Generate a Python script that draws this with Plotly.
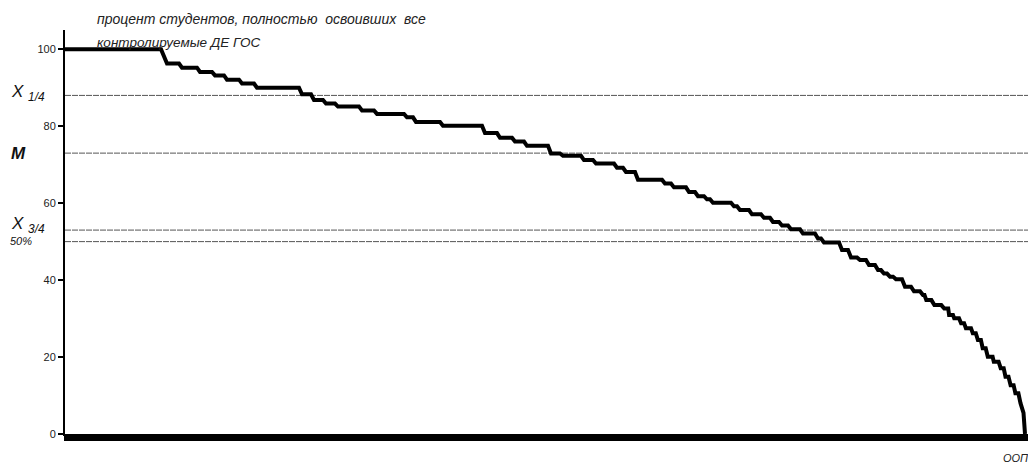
import plotly.graph_objects as go

# rank of student (sorted by result) and percent of mastered DE
student_rank = [0, 32, 34, 38, 39, 44, 45, 49, 50, 53, 54, 58, 59, 63, 64, 78, 79, 82, 83, 86,
                87, 90, 91, 98, 99, 103, 104, 113, 114, 116, 117, 125, 126, 139, 140, 144, 145,
                149, 150, 153, 154, 161, 162, 165, 166, 172, 173, 176, 177, 183, 184, 186, 187,
                190, 191, 199, 200, 202, 203, 207, 208, 210, 211, 213, 214, 215, 216, 222, 223,
                224, 225, 228, 229, 232, 233, 235, 236, 238, 239, 241, 242, 245, 246, 250, 251,
                252, 253, 258, 259, 261, 262, 264, 265, 267, 268, 270, 271, 272, 273, 274, 275,
                276, 277, 279, 280, 282, 283, 285, 286, 286.5, 287.1, 288.8, 289.8, 292.1, 293.1,
                294.4, 294.7, 296, 296.4, 298, 298.7, 299.7, 300.3, 302, 302.6, 303.6, 304.3,
                305.3, 305.9, 306.9, 307.6, 309.2, 309.6, 311.2, 311.9, 312.9, 313.5, 314.5,
                315.2, 316.2, 316.8, 317.8, 318.5, 319.5, 320]
percent = [100, 100, 96.3, 96.3, 95.2, 95.2, 94.1, 94.1, 93.2, 93.2, 92.1, 92.1, 91.1, 91.1, 90,
           90, 88.3, 88.3, 86.8, 86.8, 85.9, 85.9, 85.1, 85.1, 84.1, 84.1, 83.2, 83.2, 82.3, 82.3,
           81.1, 81.1, 80.1, 80.1, 78.2, 78.2, 77, 77, 76, 76, 74.9, 74.9, 72.9, 72.9, 72.3, 72.3,
           71.2, 71.2, 70.3, 70.3, 69.2, 69.2, 68.1, 68.1, 66.1, 66.1, 65.1, 65.1, 64.1, 64.1,
           62.9, 62.9, 61.8, 61.8, 61, 61, 60.1, 60.1, 59.2, 59.2, 58.2, 58.2, 57.1, 57.1, 56.2,
           56.2, 55.1, 55.1, 54.2, 54.2, 53.2, 53.2, 52.1, 52.1, 50.8, 50.8, 49.8, 49.8, 47.8,
           47.8, 45.9, 45.9, 45.2, 45.2, 43.9, 43.9, 42.6, 42.6, 41.7, 41.7, 40.9, 40.9, 40.2,
           40.2, 38.3, 38.3, 37.1, 37.1, 36.1, 36.1, 34.8, 34.8, 33.5, 33.5, 32.6, 32.6, 30.9,
           30.9, 30.1, 30.1, 28.8, 28.8, 27.5, 27.5, 26.2, 26.2, 24.4, 24.4, 22.3, 22.3, 20.1,
           20.1, 18.8, 18.8, 17.1, 17.1, 14.9, 14.9, 12.7, 12.7, 10.6, 10.6, 8, 5.5, 0]

# quartiles, median, 50% level
ref_names = ["q1", "median", "q3", "half"]
ref_values = [88, 73, 53, 50]

y_ticks = [0, 20, 40, 60, 80, 100]

FONT = "Liberation Sans, Arial, sans-serif"

fig = go.Figure()

for v in ref_values:
    fig.add_shape(type="line", xref="paper", yref="y", x0=0, x1=1, y0=v, y1=v,
                  line=dict(color="#555555", width=1, dash="6px,1px"), layer="below")

fig.add_trace(go.Scatter(x=student_rank, y=percent, mode="lines",
                         line=dict(color="black", width=4), showlegend=False))

# page body has an 8px margin, keep the figure inside the visible page
fig.update_layout(
    width=1020, height=457,
    margin=dict(l=57, r=0, t=22, b=31),
    paper_bgcolor="white", plot_bgcolor="white",
    font=dict(family=FONT, size=11, color="black"),
    xaxis=dict(range=[0, 321], showgrid=False, zeroline=False, showline=True,
               linecolor="black", linewidth=2, ticks="outside", ticklen=5,
               tickwidth=2.5, tickcolor="black", dtick=1, tick0=0,
               showticklabels=False),
    yaxis=dict(range=[0, 105], showgrid=False, zeroline=False, showline=True,
               linecolor="black", linewidth=2, ticks="outside", ticklen=5,
               tickwidth=2, tickcolor="black", tickvals=y_ticks,
               tickfont=dict(size=11, color="#222")),
)


def note(text, x, y, size, xref="paper", yref="paper", color="#222"):
    fig.add_annotation(x=x, y=y, xref=xref, yref=yref, xanchor="left", yanchor="middle",
                       text=text, showarrow=False,
                       font=dict(family=FONT, size=size, color=color))


note("<i>процент студентов, полностью &nbsp;освоивших &nbsp;все</i>", 0.031, 1.027, 14)
note("<i>контролируемые ДЕ ГОС</i>", 0.031, 0.970, 13.5)

note("<i>X <sub>1/4</sub></i>", -0.058, ref_values[0] + 0.6, 17, yref="y", color="#111")
note("<b><i>M</i></b>", -0.058, ref_values[1], 17, yref="y", color="#111")
note("<i>X <sub>3/4</sub></i>", -0.058, ref_values[2] + 1.2, 17, yref="y", color="#111")
note("<i>50%</i>", -0.059, ref_values[3] + 0.2, 11, yref="y", color="#111")

note("<i>ООП</i>", 0.972, -0.06, 11)

fig.write_html("out.html")
